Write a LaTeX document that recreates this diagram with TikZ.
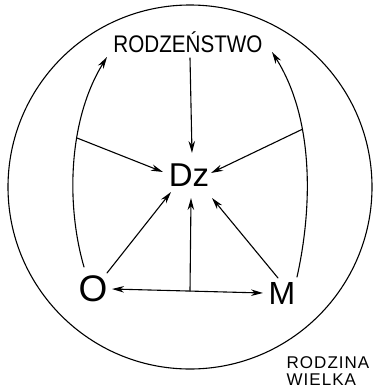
\documentclass[tikz,border=0pt]{standalone}
\usepackage{fontspec}
\usepackage{graphicx}
\setmainfont{Liberation Sans}
\usetikzlibrary{arrows.meta}
\begin{document}
\begin{tikzpicture}[x=1pt,y=-1pt, line width=1.1pt, line cap=round,
  arr/.style={-{Stealth[length=12pt,width=6.5pt]}},
  darr/.style={{Stealth[length=12pt,width=6.5pt]}-{Stealth[length=12pt,width=6.5pt]}},
  lbl/.style={inner sep=0pt}]
\useasboundingbox (0,0) rectangle (380,391);
\draw (190,187) circle [radius=182pt];
% labels
\node[lbl, font=\fontsize{24}{26}\selectfont] (rod) at (188,42) {\scalebox{0.86}[1]{RODZEŃSTWO}};
\node[lbl, font=\fontsize{33}{36}\selectfont] (dz) at (189,175) {Dz};
\node[lbl, font=\fontsize{37}{40}\selectfont] (o) at (93,289) {O};
\node[lbl, font=\fontsize{32}{36}\selectfont] (m) at (282,293) {M};
\node[lbl, font=\fontsize{17}{17}\selectfont\addfontfeature{LetterSpace=6}, align=left] (rw) at (328,371) {RODZINA\\WIELKA};
% connector end points
\coordinate (oTop) at (84,267);
\coordinate (mTop) at (297,277);
\coordinate (rodL) at (107,57);
\coordinate (rodR) at (272,52);
\coordinate (rodS) at (190,58);
\coordinate (oR) at (107,273);
\coordinate (mL) at (278,278);
\coordinate (j) at (190,291);
\coordinate (oE) at (112,289);
\coordinate (mW) at (263,293);
\coordinate (dzN) at (192,153);
\coordinate (dzW) at (163,172);
\coordinate (dzE) at (211,173);
\coordinate (dzSW) at (171,192);
\coordinate (dzS) at (191,198);
\coordinate (dzSE) at (212,198);
% side curves
\draw[arr] (oTop) .. controls (66,205) and (68,120) .. coordinate[pos=0.61] (cL) (rodL);
\draw[arr] (mTop) .. controls (312,210) and (315,120) .. coordinate[pos=0.65] (cR) (rodR);
% spokes
\draw[arr] (rodS) -- (dzN);
\draw[arr] (cL) -- (dzW);
\draw[arr] (cR) -- (dzE);
\draw[arr] (oR) -- (dzSW);
\draw[arr] (j) -- (dzS);
\draw[arr] (mL) -- (dzSE);
\draw[darr] (oE) -- (mW);
\end{tikzpicture}
\end{document}
